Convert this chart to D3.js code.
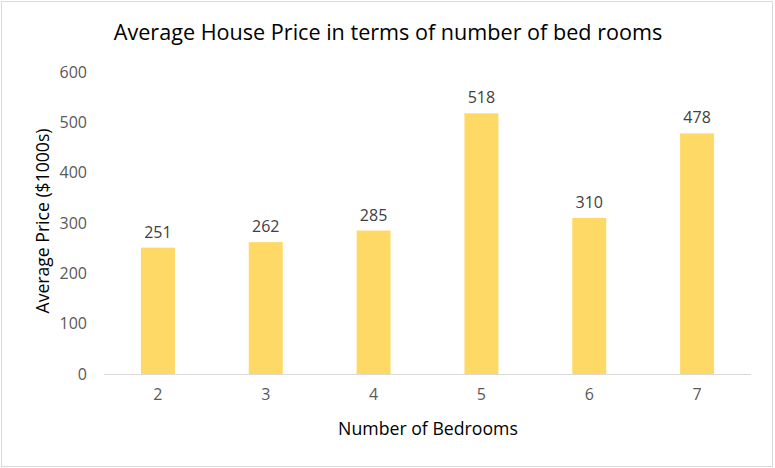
<!DOCTYPE html>
<html>
<head>
<meta charset="utf-8">
<script src="https://cdn.jsdelivr.net/npm/d3@7"></script>
<style>
  body { margin: 0; background: #fff; }
  svg { display: block; font-family: 'Open Sans', sans-serif; }
</style>
</head>
<body>
<svg></svg>
<script>
let bedrooms = ['2', '3', '4', '5', '6', '7']
let prices = [251, 262, 285, 518, 310, 478]
let yTicks = [0, 100, 200, 300, 400, 500, 600]

let width = 775
let height = 468
let plotLeft = 104
let plotRight = 751
let plotTop = 72
let plotBottom = 374

let svg = d3.select('svg')
            .attr('width', width)
            .attr('height', height)

// outer border of the chart area
svg.append('rect')
   .attr('x', 1.5)
   .attr('y', 1.5)
   .attr('width', width - 4)
   .attr('height', height - 3)
   .attr('fill', '#fff')
   .attr('stroke', '#d9d9d9')

let xScale = d3.scaleBand()
               .domain(bedrooms)
               .range([plotLeft, plotRight])
               .paddingInner(0.685)
               .paddingOuter(0.3425)

let yScale = d3.scaleLinear()
               .domain([0, 600])
               .range([plotBottom, plotTop])

svg.selectAll('.bar')
   .data(prices)
   .enter()
   .append('rect')
   .attr('class', 'bar')
   .attr('x', (d, i) => xScale(bedrooms[i]))
   .attr('y', (d) => yScale(d))
   .attr('width', xScale.bandwidth())
   .attr('height', (d) => yScale(0) - yScale(d))
   .attr('fill', '#ffd966')

svg.selectAll('.label')
   .data(prices)
   .enter()
   .append('text')
   .attr('class', 'label')
   .attr('x', (d, i) => xScale(bedrooms[i]) + xScale.bandwidth() / 2)
   .attr('y', (d) => yScale(d) - 10)
   .attr('text-anchor', 'middle')
   .attr('font-size', 16)
   .attr('fill', '#404040')
   .text((d) => d)

let xAxis = d3.axisBottom(xScale).tickSize(0).tickPadding(15)
let xg = svg.append('g')
            .attr('transform', 'translate(0, ' + plotBottom + ')')
            .call(xAxis)
xg.select('.domain').attr('stroke', '#d9d9d9').attr('d', 'M' + plotLeft + ',0.5H' + plotRight)
xg.selectAll('text').attr('font-size', 16).attr('fill', '#595959')
xg.attr('font-family', null).attr('font-size', null)

let yAxis = d3.axisLeft(yScale).tickValues(yTicks).tickSize(0).tickPadding(17)
let yg = svg.append('g')
            .attr('transform', 'translate(' + plotLeft + ', 0)')
            .call(yAxis)
yg.select('.domain').remove()
yg.selectAll('text').attr('font-size', 16).attr('fill', '#595959')
yg.attr('font-family', null).attr('font-size', null)

svg.append('text')
   .attr('x', 388)
   .attr('y', 40)
   .attr('text-anchor', 'middle')
   .attr('font-size', 21.6)
   .attr('fill', '#000')
   .text('Average House Price in terms of number of bed rooms')

svg.append('text')
   .attr('x', 428)
   .attr('y', 435)
   .attr('text-anchor', 'middle')
   .attr('font-size', 17.7)
   .attr('fill', '#000')
   .text('Number of Bedrooms')

svg.append('text')
   .attr('transform', 'translate(49, 221) rotate(-90)')
   .attr('text-anchor', 'middle')
   .attr('font-size', 17.6)
   .attr('fill', '#000')
   .text('Average Price ($1000s)')
</script>
</body>
</html>
